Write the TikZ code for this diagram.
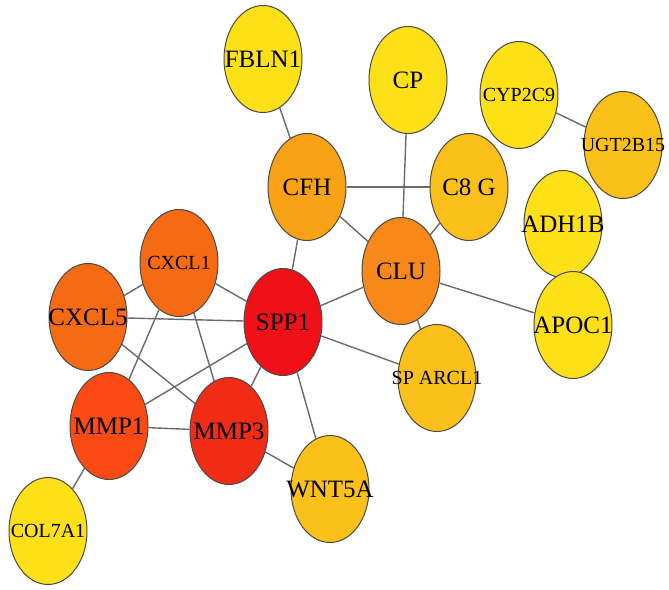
\documentclass[tikz,border=0pt]{standalone}
\usepackage{fontspec}
\setmainfont{Liberation Serif}
\usetikzlibrary{shapes.geometric}

\definecolor{cRed}{HTML}{EF1018}
\definecolor{cRedOr}{HTML}{F02C14}
\definecolor{cOrRed}{HTML}{FB4A14}
\definecolor{cOrange}{HTML}{F76A14}
\definecolor{cOrLt}{HTML}{F8881A}
\definecolor{cAmber}{HTML}{F9A216}
\definecolor{cGold}{HTML}{FCC01A}
\definecolor{cYellow}{HTML}{FDE018}
\definecolor{cEdge}{HTML}{6A6A6A}
\definecolor{cRim}{HTML}{4A4A4A}

% label wider than its ellipse, as in the picture
\newcommand{\glabel}[1]{\makebox[0pt][c]{#1}}

\tikzset{
  gene/.style={ellipse, draw=cRim, line width=1pt, minimum width=78pt, minimum height=107pt, inner sep=0pt, font=\fontsize{25}{25}\selectfont},
  genesm/.style={gene, font=\fontsize{20}{20}\selectfont},
  link/.style={draw=cEdge, line width=1.4pt}
}

\begin{document}
\begin{tikzpicture}[x=1pt,y=1pt,yscale=-1,xscale=1]
\useasboundingbox (0,0) rectangle (669,589);

% Node
\node[gene, fill=cYellow] (fbln1) at (263,59) {\glabel{FBLN1}};
% Node
\node[gene, fill=cYellow] (cp) at (408,80) {\glabel{CP}};
% Node
\node[genesm, fill=cYellow] (cyp2c9) at (519,95) {\glabel{CYP2C9}};
% Node
\node[genesm, fill=cGold] (ugt2b15) at (623,145) {\glabel{UGT2B15}};
% Node
\node[gene, fill=cAmber] (cfh) at (307,187) {\glabel{CFH}};
% Node
\node[gene, fill=cGold] (c8g) at (469,187) {\glabel{C8 G}};
% Node
\node[gene, fill=cYellow] (adh1b) at (563,224) {\glabel{ADH1B}};
% Node
\node[gene, fill=cYellow] (apoc1) at (573,325) {\glabel{APOC1}};
% Node
\node[gene, fill=cOrLt] (clu) at (401,271) {\glabel{CLU}};
% Node
\node[gene, fill=cRed] (spp1) at (283,322) {\glabel{SPP1}};
% Node
\node[genesm, fill=cOrange] (cxcl1) at (179,263) {\glabel{CXCL1}};
% Node
\node[gene, fill=cOrange] (cxcl5) at (88,317) {\glabel{CXCL5}};
% Node
\node[gene, fill=cOrRed] (mmp1) at (109,426) {\glabel{MMP1}};
% Node
\node[gene, fill=cRedOr] (mmp3) at (229,431) {\glabel{MMP3}};
% Node
\node[genesm, fill=cGold] (sparcl1) at (437,378) {\glabel{SP ARCL1}};
% Node
\node[gene, fill=cGold] (wnt5a) at (330,489) {\glabel{WNT5A}};
% Node
\node[genesm, fill=cYellow] (col7a1) at (48,531) {\glabel{COL7A1}};

% Connection
\draw[link] (fbln1) -- (cfh);
% Connection
\draw[link] (cp) -- (clu);
% Connection
\draw[link] (cfh) -- (c8g);
% Connection
\draw[link] (cfh) -- (clu);
% Connection
\draw[link] (cfh) -- (spp1);
% Connection
\draw[link] (c8g) -- (clu);
% Connection
\draw[link] (cyp2c9) -- (ugt2b15);
% Connection
\draw[link] (clu) -- (apoc1);
% Connection
\draw[link] (clu) -- (spp1);
% Connection
\draw[link] (clu) -- (sparcl1);
% Connection
\draw[link] (spp1) -- (sparcl1);
% Connection
\draw[link] (spp1) -- (wnt5a);
% Connection
\draw[link] (spp1) -- (mmp3);
% Connection
\draw[link] (spp1) -- (mmp1);
% Connection
\draw[link] (spp1) -- (cxcl1);
% Connection
\draw[link] (spp1) -- (cxcl5);
% Connection
\draw[link] (cxcl1) -- (cxcl5);
% Connection
\draw[link] (cxcl1) -- (mmp1);
% Connection
\draw[link] (cxcl1) -- (mmp3);
% Connection
\draw[link] (cxcl5) -- (mmp3);
% Connection
\draw[link] (mmp1) -- (mmp3);
% Connection
\draw[link] (mmp1) -- (col7a1);
% Connection
\draw[link] (mmp3) -- (wnt5a);

\end{tikzpicture}
\end{document}
